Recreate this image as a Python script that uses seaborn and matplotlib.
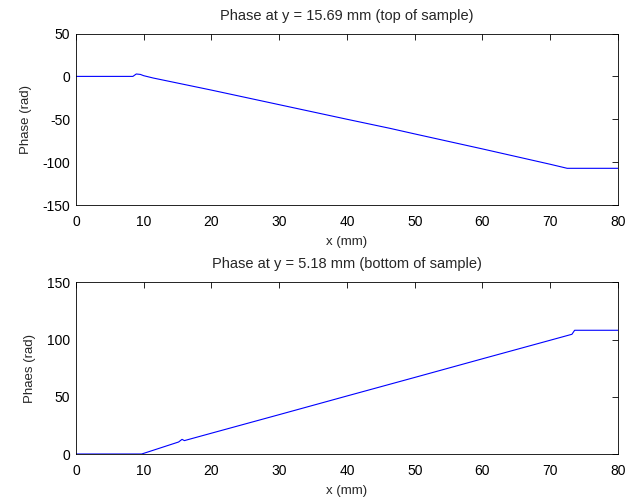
import matplotlib
matplotlib.use("Agg")
import matplotlib.pyplot as plt
import seaborn as sns
import pandas as pd

# Top subplot: phase at y = 15.69 mm
top_x = [0, 8.4, 8.9, 9.5, 10.0, 11.4, 20, 30, 40, 46.35, 50, 60, 70, 72.5, 80]
top_y = [0, 0, 2.8, 2.3, 0.8, -1.9, -16, -33, -50, -60.6, -67.1, -84.6, -102.5, -107.2, -107.2]

# Bottom subplot: phase at y = 5.18 mm
bot_x = [0, 9.7, 15.15, 15.65, 16.0, 20, 30, 40, 50, 60, 70, 73.2, 73.6, 80]
bot_y = [0, 0, 10.5, 12.8, 11.7, 18.2, 34.4, 50.7, 66.9, 83.2, 99.4, 104.6, 108.1, 108.1]

titles = ["Phase at y = 15.69 mm (top of sample)", "Phase at y = 5.18 mm (bottom of sample)"]
ylabels = ["Phase (rad)", "Phaes (rad)"]
xticks = [0, 10, 20, 30, 40, 50, 60, 70, 80]
top_yticks = [-150, -100, -50, 0, 50]
bot_yticks = [0, 50, 100, 150]

sns.set_style("white")
plt.rcParams['font.family'] = ['Liberation Sans', 'DejaVu Sans']
plt.rcParams['axes.unicode_minus'] = False

FS = 9.5
TKS = 10
TFS = 10.5

fig = plt.figure(figsize=(6.29, 5.01), dpi=100)
ax1 = fig.add_axes([0.1208, 0.5908, 0.8617, 0.3423])
ax2 = fig.add_axes([0.1208, 0.0938, 0.8617, 0.3427])

df1 = pd.DataFrame({"x": top_x, "y": top_y})
df2 = pd.DataFrame({"x": bot_x, "y": bot_y})

for ax, df, title, ylab, yt in [(ax1, df1, titles[0], ylabels[0], top_yticks),
                                (ax2, df2, titles[1], ylabels[1], bot_yticks)]:
    sns.lineplot(data=df, x="x", y="y", ax=ax, color=(0, 0, 1), linewidth=0.8,
                 estimator=None, sort=False)
    ax.set_xlim(0, 80)
    ax.set_ylim(yt[0], yt[-1])
    ax.set_xticks(xticks)
    ax.set_yticks(yt)
    ax.set_title(title, fontsize=TFS, pad=10)
    ax.set_xlabel("x (mm)", fontsize=FS, labelpad=5)
    ax.set_ylabel(ylab, fontsize=FS, labelpad=8)
    ax.tick_params(direction="in", length=4, width=0.6, top=True, right=True,
                   labelsize=TKS, colors="black")
    ax.tick_params(axis="x", pad=7)
    ax.tick_params(axis="y", pad=4)
    for s in ax.spines.values():
        s.set_visible(True)
        s.set_color("black")
        s.set_linewidth(0.6)

fig.savefig("out.png", dpi=100, facecolor="white")
